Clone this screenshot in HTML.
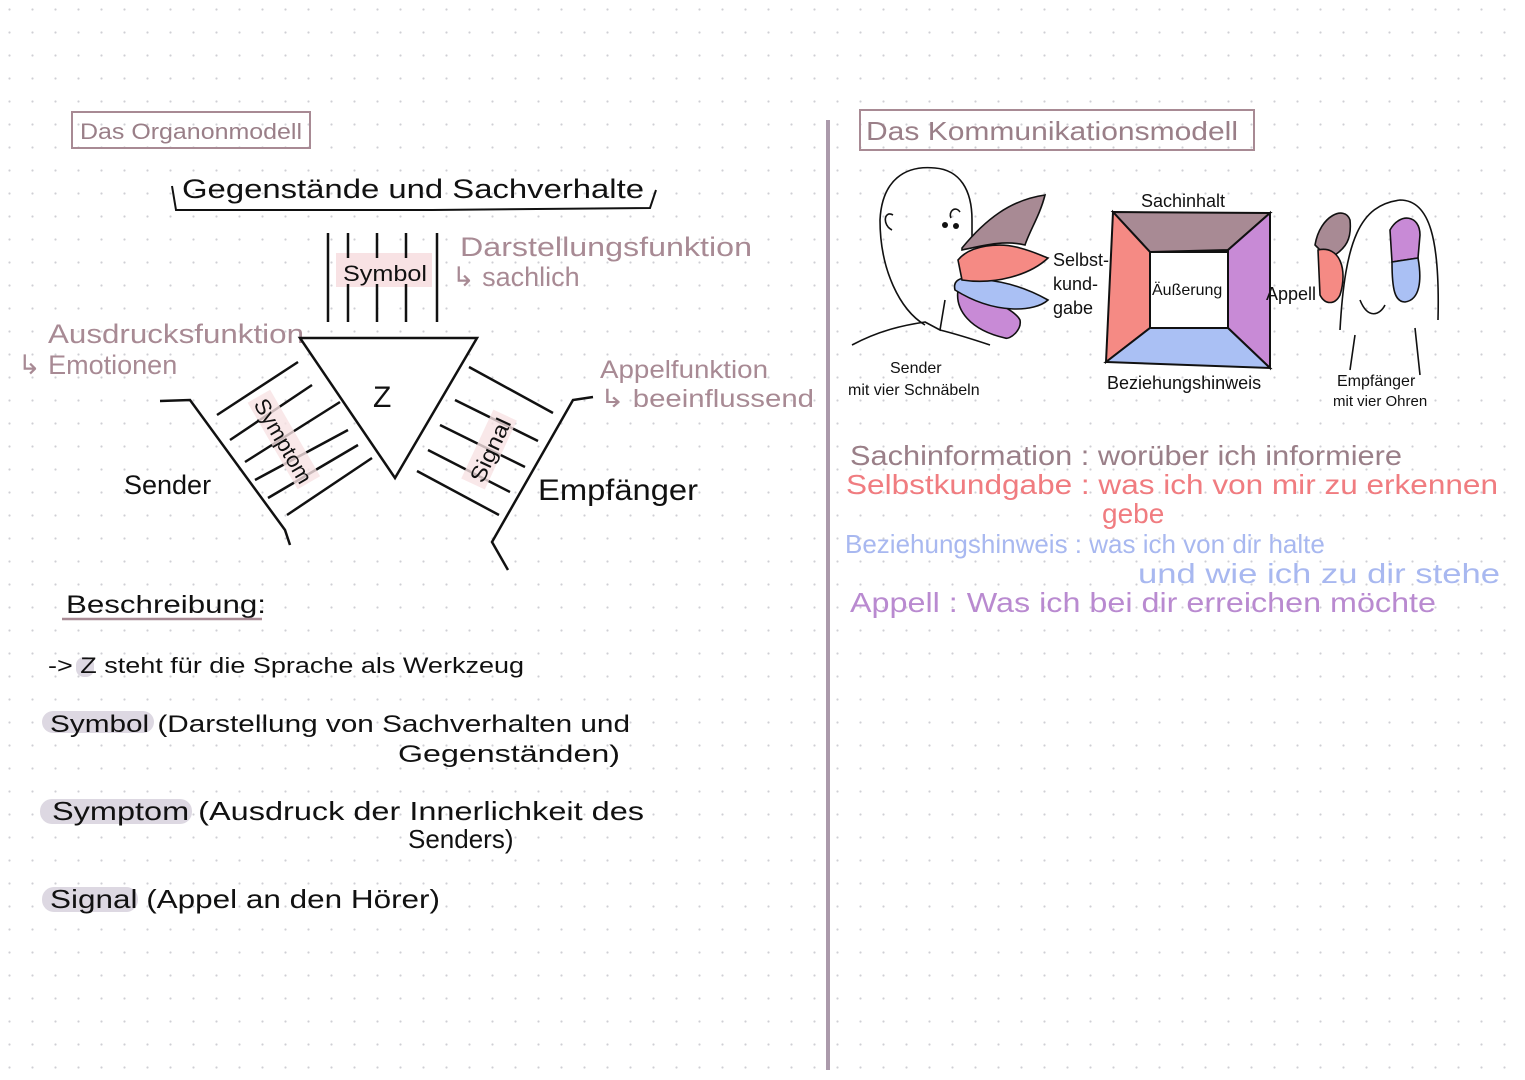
<!DOCTYPE html>
<html><head><meta charset="utf-8"><style>
html,body{margin:0;padding:0;background:#fff;}
svg{display:block;}
text{font-family:"Liberation Sans",sans-serif;}
</style></head><body>
<svg width="1525" height="1080" viewBox="0 0 1525 1080" xmlns="http://www.w3.org/2000/svg">
<defs>
<pattern id="dots" width="23" height="23" patternUnits="userSpaceOnUse" x="8" y="8">
<circle cx="1.5" cy="1.5" r="1.1" fill="#cfcfd4"/>
</pattern>
</defs>
<rect width="1525" height="1080" fill="#fff"/>
<rect width="1525" height="1080" fill="url(#dots)"/>

<line x1="828" y1="120" x2="828" y2="1070" stroke="#ab9aab" stroke-width="4"/>

<rect x="72" y="112" width="238" height="36" fill="none" stroke="#a88a94" stroke-width="2"/>
<text x="80" y="139" font-size="22" fill="#9a7f88" textLength="222" lengthAdjust="spacingAndGlyphs">Das Organonmodell</text>

<text x="182" y="198" font-size="27" fill="#111" textLength="462" lengthAdjust="spacingAndGlyphs">Gegenstände und Sachverhalte</text>
<path d="M172 186 L176 210 L432 210 L650 208 L656 190" fill="none" stroke="#111" stroke-width="2"/>

<rect x="336" y="253" width="96" height="34" fill="#f8e2e4"/>
<g stroke="#111" stroke-width="2.5">
<line x1="328" y1="233" x2="328" y2="322"/>
<line x1="348" y1="233" x2="348" y2="322"/>
<line x1="377" y1="233" x2="377" y2="322"/>
<line x1="406" y1="233" x2="406" y2="322"/>
<line x1="437" y1="233" x2="437" y2="322"/>
</g>
<rect x="342" y="258" width="84" height="26" fill="#f8e2e4"/>
<text x="343" y="281" font-size="22" fill="#111" textLength="84" lengthAdjust="spacingAndGlyphs">Symbol</text>

<text x="460" y="256" font-size="27" fill="#a88a94" textLength="292" lengthAdjust="spacingAndGlyphs">Darstellungsfunktion</text>
<text x="452" y="286" font-size="27" fill="#a88a94">↳ sachlich</text>

<text x="48" y="343" font-size="27" fill="#a88a94" textLength="256" lengthAdjust="spacingAndGlyphs">Ausdrucksfunktion</text>
<text x="18" y="374" font-size="27" fill="#a88a94">↳ Emotionen</text>

<polygon points="300,338 477,338 395,478" fill="#fff" stroke="#111" stroke-width="2.5"/>
<text x="373" y="407" font-size="30" fill="#111">Z</text>

<g stroke="#111" stroke-width="2.5" fill="none">
<path d="M160 401 L190 400 L285 530 L290 545"/>
<line x1="217" y1="415" x2="298" y2="362"/>
<line x1="230" y1="440" x2="312" y2="385"/>
<line x1="245" y1="462" x2="340" y2="402"/>
<line x1="255" y1="480" x2="348" y2="430"/>
<line x1="268" y1="498" x2="358" y2="445"/>
<line x1="287" y1="515" x2="372" y2="458"/>
<line x1="469" y1="367" x2="553" y2="413"/>
<line x1="455" y1="400" x2="538" y2="441"/>
<line x1="440" y1="425" x2="525" y2="467"/>
<line x1="428" y1="450" x2="510" y2="492"/>
<line x1="417" y1="471" x2="499" y2="515"/>
<path d="M593 397 L573 400 L492 542 L508 570"/>
</g>
<g transform="translate(283,440) rotate(60)"><rect x="-50" y="-14" width="100" height="26" fill="#f8e2e4" opacity="0.8"/><text x="-46" y="8" font-size="22" fill="#111" textLength="94" lengthAdjust="spacingAndGlyphs">Symptom</text></g>
<g transform="translate(490,450) rotate(-65)"><rect x="-38" y="-14" width="76" height="26" fill="#f8e2e4" opacity="0.8"/><text x="-34" y="8" font-size="22" fill="#111" textLength="68" lengthAdjust="spacingAndGlyphs">Signal</text></g>

<text x="124" y="494" font-size="27" fill="#111">Sender</text>
<text x="538" y="500" font-size="30" fill="#111" textLength="160" lengthAdjust="spacingAndGlyphs">Empfänger</text>
<text x="600" y="378" font-size="25" fill="#a88a94" textLength="168" lengthAdjust="spacingAndGlyphs">Appelfunktion</text>
<text x="600" y="407" font-size="25" fill="#a88a94" textLength="214" lengthAdjust="spacingAndGlyphs">↳ beeinflussend</text>

<text x="66" y="613" font-size="25" fill="#111" textLength="200" lengthAdjust="spacingAndGlyphs">Beschreibung:</text>
<line x1="62" y1="619" x2="262" y2="619" stroke="#a88a94" stroke-width="2.5"/>
<rect x="76" y="657" width="18" height="20" rx="8" fill="#ddd8e2"/>
<text x="48" y="673" font-size="22" fill="#111" textLength="476" lengthAdjust="spacingAndGlyphs">-&gt; Z steht für die Sprache als Werkzeug</text>
<rect x="42" y="711" width="112" height="22" rx="11" fill="#ddd8e2"/>
<text x="50" y="732" font-size="24" fill="#111" textLength="580" lengthAdjust="spacingAndGlyphs">Symbol (Darstellung von Sachverhalten und</text>
<text x="398" y="762" font-size="24" fill="#111" textLength="222" lengthAdjust="spacingAndGlyphs">Gegenständen)</text>
<rect x="40" y="799" width="152" height="25" rx="12" fill="#ddd8e2"/>
<text x="52" y="820" font-size="26" fill="#111" textLength="592" lengthAdjust="spacingAndGlyphs">Symptom (Ausdruck der Innerlichkeit des</text>
<text x="408" y="848" font-size="26" fill="#111">Senders)</text>
<rect x="42" y="887" width="96" height="25" rx="12" fill="#ddd8e2"/>
<text x="50" y="908" font-size="26" fill="#111" textLength="390" lengthAdjust="spacingAndGlyphs">Signal (Appel an den Hörer)</text>

<rect x="860" y="110" width="394" height="40" fill="none" stroke="#a88a94" stroke-width="2"/>
<text x="866" y="140" font-size="26" fill="#9a7f88" textLength="372" lengthAdjust="spacingAndGlyphs">Das Kommunikationsmodell</text>

<g fill="none" stroke="#111" stroke-width="1.6">
<path d="M925 325 C900 310 880 270 880 220 C882 180 905 165 935 168 C960 170 972 190 972 220 L972 245"/>
<path d="M893 215 C884 210 882 225 892 230"/>
<path d="M852 345 C880 330 905 325 925 322 L940 330 L945 300"/>
<path d="M940 330 C960 335 975 340 990 345"/>
<path d="M960 212 C955 205 948 212 951 218"/>
</g>
<circle cx="945" cy="225" r="3" fill="#111"/><circle cx="956" cy="226" r="3" fill="#111"/>
<path d="M1005 338 C970 330 955 310 958 290 C985 295 1015 310 1020 320 C1022 330 1010 340 1005 338Z" fill="#c88ad6" stroke="#111" stroke-width="1.6"/>
<path d="M955 290 C952 278 965 275 985 280 C1010 282 1030 290 1048 300 C1035 312 995 315 955 290Z" fill="#aac0f4" stroke="#111" stroke-width="1.6"/>
<path d="M958 260 C970 245 1000 242 1020 248 C1035 252 1042 256 1048 258 C1030 275 995 285 962 280Z" fill="#f58a84" stroke="#111" stroke-width="1.6"/>
<path d="M962 248 C985 220 1010 200 1045 195 C1040 215 1030 230 1025 245 C1005 240 985 245 962 250Z" fill="#a88a94" stroke="#111" stroke-width="1.6"/>
<text x="890" y="373" font-size="16" fill="#111">Sender</text>
<text x="848" y="395" font-size="16" fill="#111">mit vier Schnäbeln</text>

<text x="1053" y="266" font-size="18" fill="#111">Selbst-</text>
<text x="1053" y="290" font-size="18" fill="#111">kund-</text>
<text x="1053" y="314" font-size="18" fill="#111">gabe</text>

<polygon points="1113,212 1270,213 1228,250 1150,252" fill="#a88a94" stroke="#111" stroke-width="2"/>
<polygon points="1113,212 1150,252 1150,328 1106,362" fill="#f58a84" stroke="#111" stroke-width="2"/>
<polygon points="1270,213 1228,250 1228,328 1270,368" fill="#c88ad6" stroke="#111" stroke-width="2"/>
<polygon points="1106,362 1150,328 1228,328 1270,368" fill="#aac0f4" stroke="#111" stroke-width="2"/>
<rect x="1150" y="252" width="78" height="76" fill="#fff" stroke="#111" stroke-width="2"/>
<text x="1141" y="207" font-size="18" fill="#111">Sachinhalt</text>
<text x="1152" y="295" font-size="16" fill="#111">Äußerung</text>
<text x="1266" y="300" font-size="18" fill="#111">Appell</text>
<text x="1107" y="389" font-size="18" fill="#111">Beziehungshinweis</text>

<g fill="none" stroke="#111" stroke-width="1.6">
<path d="M1340 330 C1345 240 1360 205 1400 200 C1430 200 1440 240 1438 320"/>
<path d="M1360 300 C1368 320 1380 315 1385 305"/>
<path d="M1350 370 L1355 335 M1415 328 L1420 375"/>
</g>
<path d="M1315 245 C1320 215 1345 205 1350 220 C1352 240 1345 248 1335 255 L1320 250Z" fill="#a88a94" stroke="#111" stroke-width="1.6"/>
<path d="M1318 250 C1340 245 1348 270 1340 295 C1335 305 1325 305 1320 295Z" fill="#f58a84" stroke="#111" stroke-width="1.6"/>
<path d="M1390 230 C1400 212 1420 215 1420 235 L1418 258 L1392 262Z" fill="#c88ad6" stroke="#111" stroke-width="1.6"/>
<path d="M1392 262 L1418 258 C1422 280 1420 300 1405 302 C1395 302 1392 290 1392 262Z" fill="#aac0f4" stroke="#111" stroke-width="1.6"/>
<text x="1337" y="386" font-size="16" fill="#111">Empfänger</text>
<text x="1333" y="406" font-size="15" fill="#111">mit vier Ohren</text>

<text x="850" y="465" font-size="28" fill="#9a7f88" textLength="552" lengthAdjust="spacingAndGlyphs">Sachinformation : worüber ich informiere</text>
<text x="846" y="494" font-size="28" fill="#f07c80" textLength="652" lengthAdjust="spacingAndGlyphs">Selbstkundgabe : was ich von mir zu erkennen</text>
<text x="1102" y="523" font-size="28" fill="#f07c80">gebe</text>
<text x="845" y="553" font-size="26" fill="#a8b8f0">Beziehungshinweis : was ich von dir halte</text>
<text x="1138" y="583" font-size="28" fill="#a8b8f0" textLength="362" lengthAdjust="spacingAndGlyphs">und wie ich zu dir stehe</text>
<text x="850" y="612" font-size="28" fill="#b98ad0" textLength="586" lengthAdjust="spacingAndGlyphs">Appell : Was ich bei dir erreichen möchte</text>
</svg>
</body></html>
